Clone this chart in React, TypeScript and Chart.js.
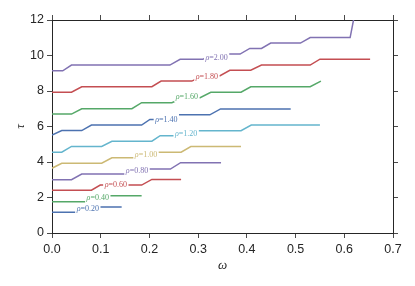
import React, { useEffect, useRef } from 'react';
import { Chart, registerables } from 'chart.js';

Chart.register(...registerables);

const rhoValues = [0.2, 0.4, 0.6, 0.8, 1.0, 1.2, 1.4, 1.6, 1.8, 2.0];
const seriesColors = ['#4c72b0', '#55a868', '#c44e52', '#8172b2', '#ccb974', '#64b5cd', '#4c72b0', '#55a868', '#c44e52', '#8172b2'];

const omega020 = [0, 0.06, 0.08, 0.143];
const tau020 = [1.17, 1.17, 1.46, 1.46];
const omega040 = [0, 0.08, 0.1, 0.184];
const tau040 = [1.76, 1.76, 2.1, 2.1];
const omega060 = [0, 0.081, 0.099, 0.184, 0.205, 0.265];
const tau060 = [2.41, 2.41, 2.7, 2.7, 3.02, 3.02];
const omega080 = [0, 0.04, 0.061, 0.16, 0.18, 0.243, 0.264, 0.347];
const tau080 = [3.0, 3.0, 3.32, 3.32, 3.6, 3.6, 3.96, 3.96];
const omega100 = [0, 0.02, 0.102, 0.123, 0.175, 0.19, 0.265, 0.285, 0.388];
const tau100 = [3.65, 3.93, 3.93, 4.24, 4.24, 4.55, 4.55, 4.87, 4.87];
const omega120 = [0, 0.02, 0.04, 0.102, 0.123, 0.205, 0.222, 0.258, 0.29, 0.388, 0.409, 0.55];
const tau120 = [4.55, 4.55, 4.88, 4.88, 5.17, 5.17, 5.48, 5.48, 5.76, 5.76, 6.08, 6.08];
const omega140 = [0, 0.02, 0.061, 0.081, 0.184, 0.201, 0.238, 0.256, 0.324, 0.346, 0.49];
const tau140 = [5.52, 5.77, 5.77, 6.08, 6.08, 6.4, 6.4, 6.66, 6.66, 6.99, 6.99];
const omega160 = [0, 0.04, 0.061, 0.164, 0.184, 0.246, 0.27, 0.304, 0.326, 0.388, 0.408, 0.53, 0.552];
const tau160 = [6.7, 6.7, 7.0, 7.0, 7.34, 7.34, 7.62, 7.62, 7.93, 7.93, 8.24, 8.24, 8.56];
const omega180 = [0, 0.04, 0.061, 0.205, 0.224, 0.287, 0.31, 0.345, 0.365, 0.408, 0.43, 0.53, 0.55, 0.653];
const tau180 = [7.93, 7.93, 8.24, 8.24, 8.56, 8.56, 8.86, 8.86, 9.17, 9.17, 9.46, 9.46, 9.79, 9.79];
const omega200 = [0, 0.022, 0.04, 0.242, 0.263, 0.31, 0.33, 0.386, 0.406, 0.43, 0.449, 0.51, 0.53, 0.612, 0.6225];
const tau200 = [9.14, 9.14, 9.46, 9.46, 9.79, 9.79, 10.08, 10.08, 10.4, 10.4, 10.7, 10.7, 11.01, 11.01, 12.5];

const seriesOmega = [omega020, omega040, omega060, omega080, omega100, omega120, omega140, omega160, omega180, omega200];
const seriesTau = [tau020, tau040, tau060, tau080, tau100, tau120, tau140, tau160, tau180, tau200];

const labelOmega = [0.0735, 0.094, 0.131, 0.1745, 0.193, 0.2754, 0.2347, 0.277, 0.318, 0.3378];
const labelTau = [1.37, 2.0, 2.76, 3.5, 4.44, 5.62, 6.41, 7.68, 8.85, 9.9];

const xTicks = [0, 0.1, 0.2, 0.3, 0.4, 0.5, 0.6, 0.7];
const yTicks = [0, 2, 4, 6, 8, 10, 12];

const TEXT = '#262626';
const FRAME = '#262626';
const TICK = '#4a4a4a';

const lineLabels = {
  id: 'lineLabels',
  afterDatasetsDraw(chart: any) {
    const ctx = chart.ctx;
    const xs = chart.scales.x;
    const ys = chart.scales.y;
    ctx.save();
    for (let i = 0; i < rhoValues.length; i++) {
      const px = xs.getPixelForValue(labelOmega[i]);
      const py = ys.getPixelForValue(labelTau[i]);
      const fontI = 'italic 8px "Liberation Serif"';
      const fontN = '8px "Liberation Serif"';
      const a = '\u03c1';
      const b = '=' + rhoValues[i].toFixed(2);
      ctx.font = fontI;
      const wa = ctx.measureText(a).width;
      ctx.font = fontN;
      const wb = ctx.measureText(b).width;
      const w = wa + wb;
      ctx.fillStyle = '#ffffff';
      ctx.fillRect(px - w / 2 - 1.5, py - 5.5, w + 3, 11);
      ctx.fillStyle = seriesColors[i];
      ctx.textBaseline = 'middle';
      ctx.textAlign = 'left';
      ctx.font = fontI;
      ctx.fillText(a, px - w / 2, py + 0.5);
      ctx.font = fontN;
      ctx.fillText(b, px - w / 2 + wa, py + 0.5);
    }
    ctx.restore();
  },
};

export default function App() {
  const ref = useRef<HTMLCanvasElement | null>(null);
  useEffect(() => {
    document.body.style.margin = '0';
    const canvas = ref.current;
    if (!canvas) return;
    const datasets = rhoValues.map((rho, i) => ({
      label: 'rho=' + rho.toFixed(2),
      data: seriesOmega[i].map((w, j) => ({ x: w, y: seriesTau[i][j] })),
      borderColor: seriesColors[i],
      backgroundColor: seriesColors[i],
      borderWidth: 1.5,
      pointRadius: 0,
      tension: 0,
      fill: false,
    }));
    const setTicks = (vals: number[]) => (scale: any) => {
      scale.ticks = vals.map((v) => ({ value: v }));
    };
    const chart = new Chart(canvas, {
      type: 'line',
      data: { datasets },
      plugins: [lineLabels],
      options: {
        animation: false,
        responsive: false,
        devicePixelRatio: 1,
        layout: { padding: 0 },
        plugins: { legend: { display: false }, tooltip: { enabled: false } },
        scales: {
          x: {
            type: 'linear',
            position: 'bottom',
            min: 0,
            max: 0.7,
            afterBuildTicks: setTicks(xTicks),
            afterFit: (s: any) => { s.height = 53; },
            grid: { drawOnChartArea: false, drawTicks: true, tickLength: 5, tickColor: TICK },
            border: { display: true, color: FRAME, width: 1 },
            ticks: {
              color: TEXT,
              padding: 4,
              font: { family: '"Liberation Sans"', size: 12.5 },
              callback: (v: any) => Number(v).toFixed(1),
            },
            title: {
              display: true,
              text: '\u03c9',
              color: TEXT,
              font: { family: '"Liberation Serif"', size: 13, style: 'italic' },
              padding: { top: 0, bottom: 13 },
            },
          },
          y: {
            type: 'linear',
            position: 'left',
            min: 0,
            max: 12,
            afterBuildTicks: setTicks(yTicks),
            afterFit: (s: any) => { s.width = 52; },
            grid: { drawOnChartArea: false, drawTicks: true, tickLength: 5, tickColor: TICK },
            border: { display: true, color: FRAME, width: 1 },
            ticks: {
              color: TEXT,
              padding: 3,
              font: { family: '"Liberation Sans"', size: 12.5 },
              callback: (v: any) => String(Math.round(Number(v))),
            },
            title: {
              display: true,
              text: '\u03c4',
              color: TEXT,
              font: { family: '"Liberation Serif"', size: 13, style: 'italic' },
              padding: { top: 12.5, bottom: 0 },
            },
          },
          x2: {
            type: 'linear',
            position: 'top',
            min: 0,
            max: 0.7,
            afterBuildTicks: setTicks(xTicks),
            afterFit: (s: any) => { s.height = 20; },
            grid: { drawOnChartArea: false, drawTicks: true, tickLength: 5, tickColor: TICK },
            border: { display: true, color: FRAME, width: 1 },
            ticks: { display: false },
          },
          y2: {
            type: 'linear',
            position: 'right',
            min: 0,
            max: 12,
            afterBuildTicks: setTicks(yTicks),
            afterFit: (s: any) => { s.width = 22; },
            grid: { drawOnChartArea: false, drawTicks: true, tickLength: 5, tickColor: TICK },
            border: { display: true, color: FRAME, width: 1 },
            ticks: { display: false },
          },
        },
      },
    } as any);
    return () => chart.destroy();
  }, []);
  return (
    <div style={{ width: 415, height: 286, background: '#ffffff' }}>
      <canvas ref={ref} width={415} height={286} style={{ display: 'block' }} />
    </div>
  );
}
